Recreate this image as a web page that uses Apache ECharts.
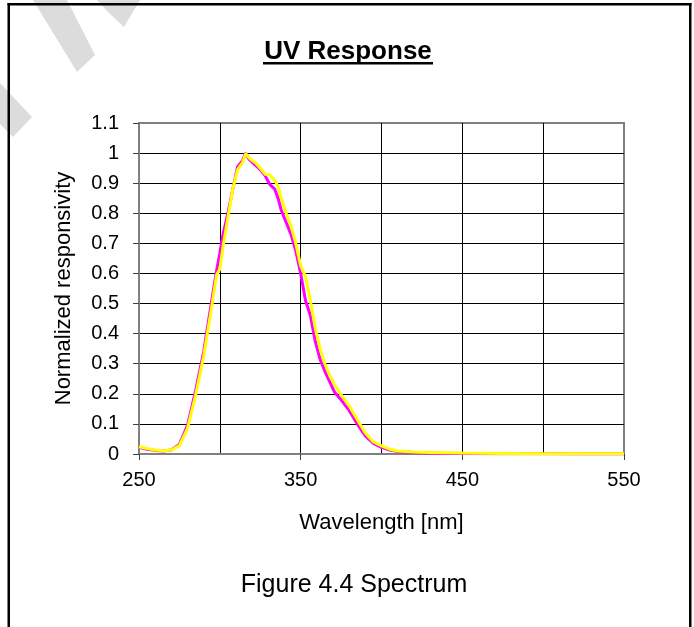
<!DOCTYPE html>
<html>
<head>
<meta charset="utf-8">
<script src="https://cdn.jsdelivr.net/npm/echarts@6/dist/echarts.min.js"></script>
<style>html,body{margin:0;padding:0;background:#fff}#c{width:694px;height:627px}</style>
</head>
<body>
<div id="c"></div>
<script>
var wavelengths = [250,255,260,265,270,275,280,285,290,295,298,300,302,305,308,311,314,316,318,320,322,325,328,331,334,336,338,341,344,347,350,353,356,359,362,365,368,371,375,380,385,390,395,400,405,410,420,430,440,450,475,500,525,550];
var magentaValues = [0.022,0.016,0.012,0.010,0.013,0.032,0.095,0.21,0.34,0.51,0.61,0.667,0.73,0.80,0.88,0.955,0.975,1.0,0.98,0.97,0.96,0.945,0.925,0.895,0.88,0.85,0.81,0.77,0.73,0.675,0.60,0.51,0.46,0.375,0.315,0.275,0.24,0.205,0.18,0.145,0.10,0.06,0.035,0.022,0.013,0.008,0.005,0.003,0.002,0.002,0.001,0.001,0,0];
var yellowValues = [0.024,0.018,0.013,0.011,0.013,0.028,0.085,0.195,0.325,0.49,0.595,0.615,0.69,0.785,0.88,0.945,0.968,0.998,0.985,0.975,0.968,0.95,0.93,0.927,0.91,0.89,0.85,0.80,0.758,0.70,0.625,0.59,0.51,0.42,0.35,0.30,0.26,0.23,0.197,0.16,0.115,0.07,0.04,0.027,0.016,0.01,0.007,0.005,0.004,0.003,0.002,0.001,0.001,0.001];
var xTickLabels = [250,350,450,550];
var yTickLabels = ['0','0.1','0.2','0.3','0.4','0.5','0.6','0.7','0.8','0.9','1','1.1'];
var titleText = 'UV Response';
var xName = 'Wavelength [nm]';
var yName = 'Normalized responsivity';
var captionText = 'Figure 4.4 Spectrum';

function pairs(xs, ys){ return xs.map(function(x,i){ return [x, ys[i]]; }); }

var FONT = 'Liberation Sans, Arial, sans-serif';
var chart = echarts.init(document.getElementById('c'), null, {renderer:'canvas'});
var stripe = '#dcdcdc';
chart.setOption({
  animation: false,
  backgroundColor: '#fff',
  grid: {left:139, right:70, top:123, bottom:173, show:true, borderColor:'#808080', borderWidth:2, backgroundColor:'transparent'},
  xAxis: [{
    type:'value', min:250, max:550, interval:50,
    axisLine:{show:true, onZero:false, lineStyle:{color:'#808080', width:2}},
    axisTick:{show:true, length:6, customValues:xTickLabels, lineStyle:{color:'#404040', width:1}},
    axisLabel:{customValues:xTickLabels, color:'#000', fontFamily:FONT, fontSize:20, margin:16},
    splitLine:{show:false},
    name:xName, nameLocation:'middle', nameGap:58,
    nameTextStyle:{color:'#000', fontFamily:FONT, fontSize:22}
  },{
    type:'value', min:250, max:550, interval:50, position:'bottom',
    axisLine:{show:false}, axisTick:{show:false}, axisLabel:{show:false},
    splitLine:{show:true, showMinLine:false, showMaxLine:false, lineStyle:{color:'#000', width:1}}
  }],
  yAxis: {
    type:'value', min:0, max:1.1, interval:0.1,
    axisLine:{show:true, onZero:false, lineStyle:{color:'#808080', width:2}},
    axisTick:{show:true, length:6, lineStyle:{color:'#404040', width:1}},
    axisLabel:{color:'#000', fontFamily:FONT, fontSize:20, margin:20,
      formatter:function(v){ return yTickLabels[Math.round(v*10)]; }},
    splitLine:{show:true, showMinLine:false, showMaxLine:false, lineStyle:{color:'#000', width:1}},
    name:yName, nameLocation:'middle', nameGap:64, nameRotate:90,
    nameTextStyle:{color:'#000', fontFamily:FONT, fontSize:22}
  },
  series: [
    {type:'line', xAxisIndex:0, data:pairs(wavelengths, magentaValues), showSymbol:false, lineStyle:{color:'#ff00ff', width:3}, itemStyle:{color:'#ff00ff'}, z:3},
    {type:'line', xAxisIndex:0, data:pairs(wavelengths, yellowValues), showSymbol:false, lineStyle:{color:'#ffff00', width:3}, itemStyle:{color:'#ffff00'}, z:4}
  ],
  graphic: [
    {type:'polygon', z:-10, shape:{points:[[33,0],[67,0],[95,55],[77,72]]}, style:{fill:stripe}},
    {type:'polygon', z:-10, shape:{points:[[97,0],[140,0],[124,27],[108,12]]}, style:{fill:stripe}},
    {type:'polygon', z:-10, shape:{points:[[0,83],[32,117],[13,137],[0,124]]}, style:{fill:stripe}},
    {type:'rect', z:10, shape:{x:7.5, y:3, width:2.5, height:640}, style:{fill:'#000'}},
    {type:'rect', z:10, shape:{x:7.5, y:3, width:684, height:2.5}, style:{fill:'#000'}},
    {type:'rect', z:10, shape:{x:689, y:3, width:2.5, height:640}, style:{fill:'#000'}},
    {type:'text', z:10, x:348, y:52, style:{text:titleText, fill:'#000', font:'bold 26px Liberation Sans, Arial, sans-serif', textAlign:'center', textVerticalAlign:'middle'}},
    {type:'rect', z:10, shape:{x:263, y:62, width:170, height:2.5}, style:{fill:'#000'}},
    {type:'text', z:10, x:354, y:585, style:{text:captionText, fill:'#000', font:'25px Liberation Sans, Arial, sans-serif', textAlign:'center', textVerticalAlign:'middle'}}
  ]
});
</script>
</body>
</html>
